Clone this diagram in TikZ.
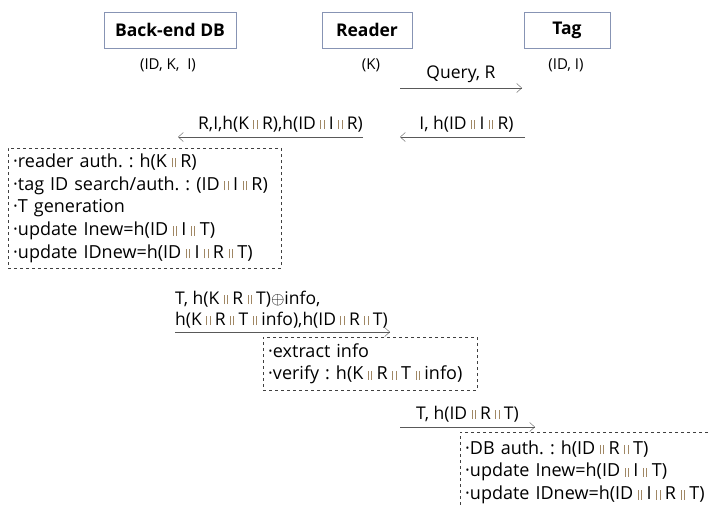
\documentclass[tikz,border=0pt]{standalone}
\usepackage{fontspec}
\setmainfont{Open Sans}
\usetikzlibrary{arrows.meta,positioning}
\definecolor{boxline}{RGB}{135,148,180}
\definecolor{barcol}{RGB}{160,135,100}
\newcommand{\cat}{\kern0.25em\textcolor{barcol}{\rule{0.9pt}{0.95ex}\kern0.14em\rule{0.9pt}{0.95ex}}\kern0.25em}
\frenchspacing
\begin{document}
\begin{tikzpicture}[x=1pt,y=-1pt,
    party/.style={draw=boxline,minimum height=36pt,font=\bfseries\fontsize{17.5}{20}\selectfont},
    key/.style={inner sep=0pt,font=\fontsize{15}{18}\selectfont},
    msg/.style={inner sep=0pt,font=\fontsize{17.5}{21}\selectfont},
    note/.style={draw=black!75,dashed,anchor=north west,align=left,inner xsep=5pt,
        font=\fontsize{18}{22.75}\selectfont},
    flow/.style={draw=black!65,-{Straight Barb[length=5pt,width=9pt]}}]
\useasboundingbox (0,0) rectangle (710,504);
\clip (0,0) rectangle (710,504);

\node[party,minimum width=132pt] (db) at (170,30) {Back-end DB};
\node[party,minimum width=90pt] (reader) at (367,30) {Reader};
\node[party,minimum width=86pt] (tag) at (567,30) {Tag};
\node[key] (dbkey) at (168,65) {(ID, K,\ \ I)};
\node[key] (rdkey) at (371,65) {(K)};
\node[key] (tagkey) at (566,65) {(ID, I)};

\coordinate (qa) at (400,88);
\coordinate (qb) at (522,88);
\draw[flow] (qa) -- node[msg,above=5pt] (query) {Query, R} (qb);

\coordinate (ra) at (525,137);
\coordinate (rb) at (400,137);
\draw[flow] (ra) -- node[msg,above=5pt,xshift=4pt] (tagreply) {I, h(ID\cat I\cat R)} (rb);
\coordinate (fa) at (363,137);
\coordinate (fb) at (178,137);
\draw[flow] (fa) -- node[msg,pos=0,anchor=south east,yshift=5pt] (fwd) {R,I,h(K\cat R),h(ID\cat I\cat R)} (fb);

\node[note,text width=263pt,minimum height=120pt] (dbwork) at (8,148)
    {·reader auth. : h(K\cat R)\\
     ·tag ID search/auth. : (ID\cat I\cat R)\\
     ·T generation\\
     ·update Inew=h(ID\cat I\cat T)\\
     ·update IDnew=h(ID\cat I\cat R\cat T)};

\coordinate (ta) at (175,332);
\coordinate (tb) at (390,332);
\draw[flow] (ta) -- node[msg,pos=0,anchor=south west,yshift=4pt,align=left,
    font=\fontsize{17.5}{21}\selectfont] (dbmsg)
    {T, h(K\cat R\cat T)$\oplus$info,\\h(K\cat R\cat T\cat info),h(ID\cat R\cat T)} (tb);

\node[note,text width=204pt,minimum height=53pt] (rdwork) at (263,337)
    {·extract info\\
     ·verify : h(K\cat R\cat T\cat info)};

\coordinate (ua) at (400,427);
\coordinate (ub) at (535,427);
\draw[flow] (ua) -- node[msg,above=5pt] (rdmsg) {T, h(ID\cat R\cat T)} (ub);

\node[note,text width=260pt,minimum height=80pt] (tagwork) at (460,432)
    {·DB auth. : h(ID\cat R\cat T)\\
     ·update Inew=h(ID\cat I\cat T)\\
     ·update IDnew=h(ID\cat I\cat R\cat T)};
\end{tikzpicture}
\end{document}
